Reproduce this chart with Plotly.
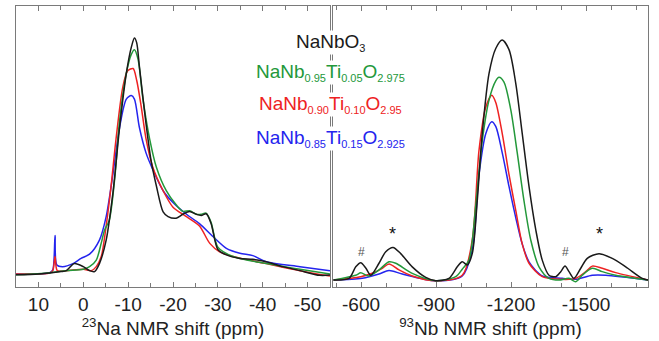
import plotly.graph_objects as go

# ---------------- data: 23Na spectra (ppm, normalised intensity) ----------------
na_black_x = [15, 10, 7.5, 5, 3.8, 2, 0, -1.4, -2.5, -3.6, -5.1, -6.6, -8.1, -9.6, -10.7, -11.4, -11.9, -12.5,
              -13.7, -15.1, -16.3, -17.8, -18.9, -20.7, -22.2, -23.7, -25.2, -26.3, -27.4, -28.5, -30, -31.9,
              -34.9, -37.8, -40.8, -44.5, -48.3, -52.7, -55]
na_black_y = [-0.008, -0.004, 0.0, 0.006, 0.01, 0.04, 0.027, 0.01, 0.006, 0.04, 0.14, 0.34, 0.62, 0.85, 0.96, 1.0,
              0.98, 0.88, 0.68, 0.48, 0.37, 0.26, 0.24, 0.233, 0.25, 0.262, 0.25, 0.245, 0.252, 0.21, 0.10, 0.077,
              0.062, 0.058, 0.048, 0.027, 0.01, -0.01, -0.009]

na_green_x = [15, 7.5, 3.8, 0, -1.4, -2.9, -4, -4.7, -5.8, -7, -8.1, -9.6, -10.7, -11.4, -12.2, -13.3, -14.8,
              -16.3, -18.5, -20.7, -22.2, -23.7, -25.2, -26.3, -27.4, -28.5, -30, -33.4, -40.8, -48.3, -55]
na_green_y = [-0.008, 0.001, 0.01, 0.016, 0.027, 0.055, 0.127, 0.18, 0.225, 0.40, 0.65, 0.85, 0.93, 0.95, 0.91,
              0.74, 0.57, 0.45, 0.35, 0.29, 0.262, 0.265, 0.25, 0.25, 0.255, 0.215, 0.11, 0.07, 0.04, 0.016, -0.004]

na_red_x = [15, 7.5, 6.8, 6.3, 5.8, 3.8, 0, -1.8, -2.9, -4, -5.1, -6.2, -7.3, -8.8, -9.9, -11.1, -11.9, -12.9,
            -14, -15.5, -17.8, -20, -23, -25.9, -28.2, -30.4, -33.4, -40.8, -48.3, -55]
na_red_y = [-0.004, 0.0, 0.01, 0.07, 0.01, 0.01, 0.016, 0.01, 0.027, 0.07, 0.2, 0.37, 0.57, 0.79, 0.86, 0.87,
            0.82, 0.71, 0.57, 0.45, 0.35, 0.28, 0.24, 0.20, 0.126, 0.09, 0.07, 0.04, 0.01, -0.013]

na_blue_x = [15, 7.5, 6.8, 6.3, 5.9, 4.6, 2.3, 0.5, -1.4, -3.6, -5.1, -6.6, -8.1, -9.6, -10.7, -11.4, -12.5,
             -14, -15.5, -17.8, -20, -23, -25.9, -28.9, -31.9, -34.9, -37.8, -40.8, -48.3, -55]
na_blue_y = [-0.004, 0.001, 0.013, 0.16, 0.034, 0.027, 0.04, 0.062, 0.08, 0.14, 0.24, 0.42, 0.62, 0.74, 0.755,
             0.74, 0.62, 0.51, 0.44, 0.35, 0.30, 0.25, 0.21, 0.155, 0.105, 0.084, 0.074, 0.048, 0.027, 0.01]

# ---------------- data: 93Nb spectra (ppm, normalised intensity) ----------------
nb_black_x = [-490, -552, -579, -599, -619, -639, -672, -699, -728, -759, -805, -859, -899, -952, -985, -1005,
              -1025, -1045, -1065, -1085, -1112, -1139, -1165, -1192, -1219, -1245, -1272, -1299, -1325, -1352,
              -1379, -1399, -1416, -1432, -1452, -1479, -1505, -1552, -1605, -1659, -1725, -1750]
nb_black_y = [0.0, 0.007, 0.055, 0.072, 0.05, 0.02, 0.07, 0.118, 0.136, 0.11, 0.055, 0.011, -0.003, 0.007, 0.055,
              0.076, 0.063, 0.11, 0.33, 0.61, 0.86, 0.965, 1.0, 0.96, 0.82, 0.61, 0.39, 0.21, 0.083, 0.02, 0.014,
              0.035, 0.058, 0.035, 0.007, 0.049, 0.09, 0.11, 0.09, 0.055, 0.007, 0.0]

nb_green_x = [-490, -579, -599, -632, -672, -712, -739, -805, -899, -979, -1005, -1032, -1059, -1085, -1112,
              -1139, -1152, -1172, -1199, -1225, -1252, -1279, -1312, -1352, -1392, -1432, -1459, -1485, -1525,
              -1565, -1619, -1750]
nb_green_y = [0.0, 0.02, 0.03, 0.017, 0.042, 0.076, 0.07, 0.028, -0.003, 0.014, 0.045, 0.083, 0.31, 0.58, 0.75,
              0.83, 0.845, 0.825, 0.71, 0.53, 0.33, 0.167, 0.055, 0.007, 0.0, 0.007, -0.007, 0.02, 0.049, 0.035,
              0.02, 0.0]

nb_red_x = [-490, -599, -645, -685, -712, -752, -805, -899, -1005, -1045, -1072, -1099, -1123, -1139, -1165,
            -1192, -1219, -1245, -1272, -1325, -1405, -1459, -1499, -1525, -1565, -1619, -1750]
nb_red_y = [0.0, 0.014, 0.028, 0.049, 0.067, 0.042, 0.017, -0.003, 0.02, 0.167, 0.54, 0.72, 0.77, 0.74, 0.61,
            0.44, 0.29, 0.15, 0.07, 0.014, 0.003, 0.007, 0.035, 0.058, 0.049, 0.031, 0.0]

nb_blue_x = [-490, -605, -672, -712, -765, -899, -1005, -1045, -1072, -1099, -1123, -1139, -1165, -1192, -1219,
             -1245, -1272, -1325, -1405, -1459, -1525, -1579, -1750]
nb_blue_y = [0.0, 0.007, 0.025, 0.04, 0.025, -0.003, 0.017, 0.125, 0.44, 0.61, 0.66, 0.64, 0.53, 0.39, 0.26,
             0.15, 0.076, 0.017, 0.007, 0.003, 0.02, 0.02, 0.0]

na_ticks = [10, 0, -10, -20, -30, -40, -50]
na_ticktext = ["10", "0", "-10", "-20", "-30", "-40", "-50"]
na_minor = [5, -5, -15, -25, -35, -45]
nb_ticks = [-600, -900, -1200, -1500]
nb_ticktext = ["-600", "-900", "-1200", "-1500"]
nb_minor = [-500, -700, -800, -1000, -1100, -1300, -1400, -1600, -1700]

def sub(s):
    return '<sub><span style="font-size:11px">' + s + '</span></sub>'

labels = ["NaNbO" + sub("3"),
          "NaNb" + sub("0.95") + "Ti" + sub("0.05") + "O" + sub("2.975"),
          "NaNb" + sub("0.90") + "Ti" + sub("0.10") + "O" + sub("2.95"),
          "NaNb" + sub("0.85") + "Ti" + sub("0.15") + "O" + sub("2.925")]
colors = ["#1a1a1a", "#23983a", "#ee2222", "#2424ee"]

na_series = [(na_black_x, na_black_y), (na_green_x, na_green_y), (na_red_x, na_red_y), (na_blue_x, na_blue_y)]
nb_series = [(nb_black_x, nb_black_y), (nb_green_x, nb_green_y), (nb_red_x, nb_red_y), (nb_blue_x, nb_blue_y)]

fig = go.Figure()
for i in [3, 2, 1, 0]:
    x, y = na_series[i]
    fig.add_trace(go.Scatter(x=x, y=y, mode="lines", line=dict(color=colors[i], width=1.5, shape="spline", smoothing=0.8),
                             xaxis="x", yaxis="y", showlegend=False, hoverinfo="skip"))
for i in [3, 2, 1, 0]:
    x, y = nb_series[i]
    fig.add_trace(go.Scatter(x=x, y=y, mode="lines", line=dict(color=colors[i], width=1.5, shape="spline", smoothing=0.8),
                             xaxis="x2", yaxis="y2", showlegend=False, hoverinfo="skip"))

W, H = 659, 341
frame = "#7a7a7a"
FONT = "Liberation Sans, Arial, sans-serif"
tickfont = dict(family=FONT, size=19, color="#222")

def xax(dom, rng, tv, tt, mv, title, anchor):
    return dict(domain=dom, range=rng, tickvals=tv, ticktext=tt, ticks="inside", ticklen=5, tickcolor=frame,
                tickwidth=1, showline=True, linecolor=frame, linewidth=1.3, mirror="allticks", showgrid=False,
                zeroline=False, tickfont=tickfont, anchor=anchor,
                minor=dict(tickvals=mv, ticks="inside", ticklen=4, tickcolor=frame, showgrid=False),
                title=dict(text=title, font=tickfont, standoff=0))

def yax(rng, anchor):
    return dict(domain=[1 - 287 / H, 1 - 6 / H], range=rng, showline=True, linecolor=frame, linewidth=1.3,
                mirror=True, showticklabels=False, ticks="", showgrid=False, zeroline=False, anchor=anchor)

fig.update_layout(
    width=W, height=H, margin=dict(l=0, r=0, t=0, b=0),
    paper_bgcolor="white", plot_bgcolor="white",
    xaxis=xax([16 / W, 330 / W], [15, -55], na_ticks, na_ticktext, na_minor, "<sup>23</sup>Na NMR shift (ppm)", "y"),
    yaxis=yax([-0.0596, 1.136], "x"),
    xaxis2=xax([333 / W, 648 / W], [-488, -1748], nb_ticks, nb_ticktext, nb_minor, "<sup>93</sup>Nb NMR shift (ppm)", "y2"),
    yaxis2=yax([-0.029, 1.142], "x2"),
)

label_y = [42, 72, 105, 138]
for t, c, yp in zip(labels, colors, label_y):
    fig.add_annotation(text=t, x=330 / W, y=1 - yp / H, xref="paper", yref="paper", showarrow=False,
                       xanchor="center", yanchor="middle", bgcolor="white", borderpad=0,
                       font=dict(family=FONT, size=19, color=c))

marks = [("#", -600, 252, 12, "#555"), ("*", -725, 234, 18, "#111"), ("#", -1416, 252, 12, "#555"), ("*", -1552, 234, 18, "#111")]
for t, xv, yp, sz, c in marks:
    fig.add_annotation(text=t, x=xv, y=1 - yp / H, xref="x2", yref="paper", showarrow=False,
                       xanchor="center", yanchor="middle",
                       font=dict(family=FONT, size=sz, color=c))

fig.write_html("out.html")
